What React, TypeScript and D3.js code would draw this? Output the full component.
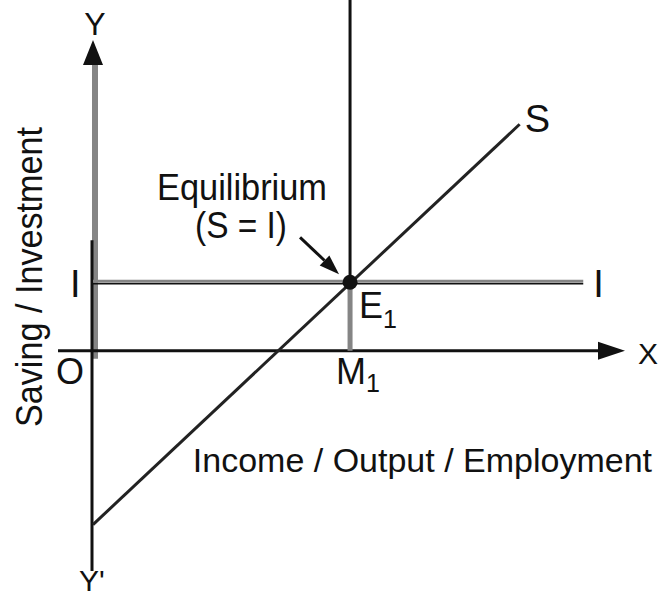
import React from "react";
import * as d3 from "d3";

const W = 663;
const H = 598;

// conceptual data space
const xDomain = [0, 100];
const yDomain = [-42, 59];
const xAxisExtent = [-6.6, 100];
const yAxisExtent = [-41.8, 59];
const equilibriumX = 48.5;
const investmentLevel = 13;
const investmentLine = [
  [0, 13],
  [92.5, 13],
];
const savingLine = [
  [0, -33],
  [80.5, 43],
];
const verticalTop = 67;
const fontFamily = "'Liberation Sans', Arial, Helvetica, sans-serif";

export default function App() {
  const x = d3.scaleLinear().domain(xDomain).range([93, 623]);
  const y = d3.scaleLinear().domain(yDomain).range([572, 40]);
  const line = d3
    .line<number[]>()
    .x((d) => x(d[0]))
    .y((d) => y(d[1]));

  const ox = x(0);
  const oy = y(0);
  const ex = x(equilibriumX);
  const ey = y(investmentLevel);
  const gray = "#858585";
  const black = "#111";

  // equilibrium arrow
  const aStart = [ex - 50, ey - 45];
  const aTip = [ex - 11, ey - 8];
  const dx = aTip[0] - aStart[0];
  const dy = aTip[1] - aStart[1];
  const len = Math.hypot(dx, dy);
  const ux = dx / len;
  const uy = dy / len;
  const hl = 20;
  const hw = 7;
  const hb = [aTip[0] - ux * hl, aTip[1] - uy * hl];
  const head = `M${aTip[0]},${aTip[1]} L${hb[0] - uy * hw},${hb[1] + ux * hw} L${hb[0] + uy * hw},${hb[1] - ux * hw} Z`;

  const txt = { fontFamily, fill: black } as const;

  return (
    <svg width={W} height={H} style={{ position: "absolute", left: 0, top: 0, background: "#fff" }}>
      <rect width={W} height={H} fill="#fff" />
      {/* Y axis */}
      <line x1={ox + 2} x2={ox + 2} y1={y(yAxisExtent[1]) + 20} y2={oy + 8} stroke={gray} strokeWidth={6} />
      <line x1={ox - 1} x2={ox - 1} y1={y(21)} y2={y(yAxisExtent[0])} stroke={black} strokeWidth={3} />
      <path d={`M${ox},${y(yAxisExtent[1])} L${ox - 10},${y(yAxisExtent[1]) + 25} L${ox + 10},${y(yAxisExtent[1]) + 25} Z`} fill={black} />
      {/* X axis */}
      <line x1={x(xAxisExtent[0])} x2={x(xAxisExtent[1]) - 20} y1={oy} y2={oy} stroke={black} strokeWidth={3} />
      <path d={`M${x(xAxisExtent[1]) + 2},${oy} L${x(xAxisExtent[1]) - 25},${oy - 9} L${x(xAxisExtent[1]) - 25},${oy + 9} Z`} fill={black} />
      {/* Investment line */}
      <path d={line(investmentLine) || ""} stroke={gray} strokeWidth={3} fill="none" transform="translate(0,-1)" />
      <path d={line(investmentLine) || ""} stroke={black} strokeWidth={1.5} fill="none" transform="translate(0,1.5)" />
      {/* vertical at equilibrium */}
      <line x1={ex} x2={ex} y1={y(verticalTop)} y2={ey} stroke={black} strokeWidth={3} />
      <line x1={ex} x2={ex} y1={ey} y2={oy} stroke={gray} strokeWidth={5} />
      {/* Saving line */}
      <path d={line(savingLine) || ""} stroke="#222" strokeWidth={3} fill="none" />
      {/* Equilibrium point */}
      <circle cx={ex} cy={ey} r={7.5} fill={black} />
      {/* arrow */}
      <line x1={aStart[0]} y1={aStart[1]} x2={hb[0]} y2={hb[1]} stroke={black} strokeWidth={3} />
      <path d={head} fill={black} />

      {/* labels */}
      <text x={ox + 2} y={35} fontSize={32} textAnchor="middle" {...txt}>Y</text>
      <text x={79} y={591} fontSize={30} {...txt}>Y'</text>
      <text x={638} y={364} fontSize={30} {...txt}>X</text>
      <text x={56} y={384} fontSize={36} {...txt}>O</text>
      <text x={70} y={297} fontSize={38} {...txt}>I</text>
      <text x={x(investmentLine[1][0]) + 10} y={297} fontSize={38} {...txt}>I</text>
      <text x={x(savingLine[1][0]) + 5} y={132} fontSize={38} {...txt}>S</text>
      <text x={ex + 9} y={318} fontSize={36} {...txt}>
        E<tspan fontSize={25} dy={10}>1</tspan>
      </text>
      <text x={ex - 14} y={384} fontSize={36} {...txt}>
        M<tspan fontSize={25} dy={8}>1</tspan>
      </text>
      <text x={157} y={200} fontSize={36} textLength={170} lengthAdjust="spacingAndGlyphs" {...txt}>Equilibrium</text>
      <text x={195} y={238} fontSize={36} textLength={92} lengthAdjust="spacingAndGlyphs" {...txt}>(S = I)</text>
      <text x={652} y={472} fontSize={34} textAnchor="end" {...txt}>Income / Output / Employment</text>
      <text transform="translate(42,427) rotate(-90)" x={0} y={0} fontSize={36} textLength={300} lengthAdjust="spacingAndGlyphs" {...txt}>Saving / Investment</text>
    </svg>
  );
}
